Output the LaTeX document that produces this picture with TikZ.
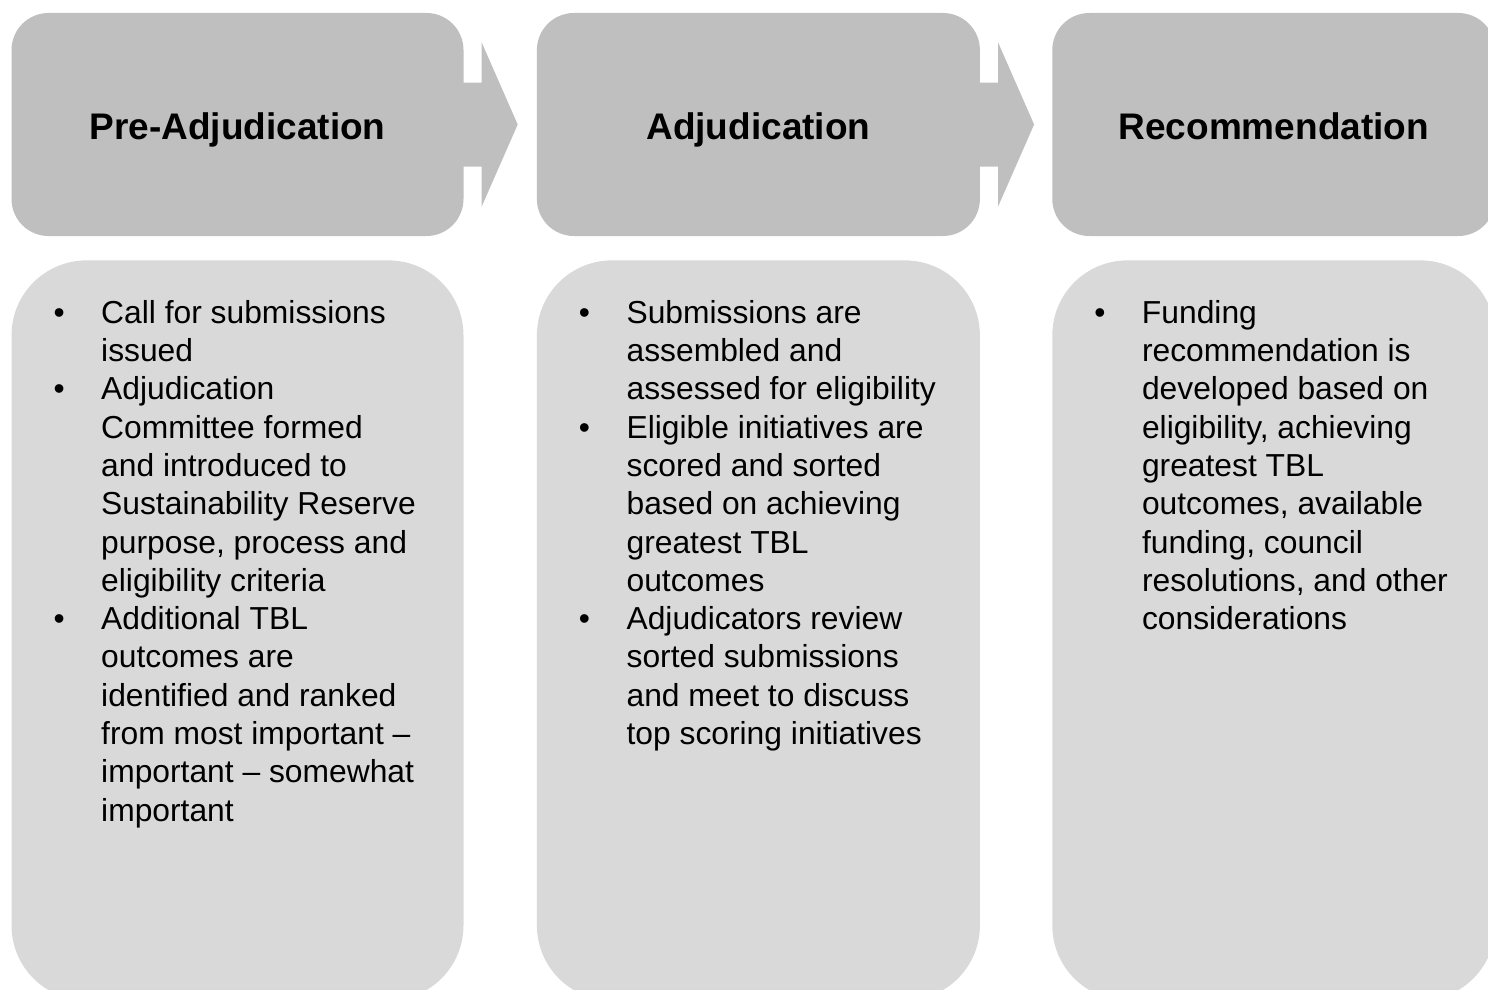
\documentclass[tikz,border=0pt]{standalone}
\usepackage{fontspec}
\setmainfont{Liberation Sans}
\usepackage{tikz}
\usetikzlibrary{positioning,calc}
\definecolor{headgray}{RGB}{191,191,191}
\definecolor{bodygray}{RGB}{217,217,217}
\newcommand{\itm}{\textbullet &}

\begin{document}
\begin{tikzpicture}[x=1pt,y=-1pt,
  head/.style={fill=headgray,rounded corners=37pt,minimum height=223pt,inner sep=0pt,
    text height=29pt,text depth=0pt,font=\bfseries\fontsize{37}{44}\selectfont},
  body/.style={fill=bodygray,rounded corners=75pt,minimum height=740pt,inner sep=0pt},
  list/.style={anchor=base west,inner sep=0pt,font=\fontsize{31.8}{38.3}\selectfont}
]
\useasboundingbox (0,0) rectangle (1488,990);
\clip (0,0) rectangle (1488,990);
\node[head,minimum width=452pt] (pre) at (237.5,124.5) {Pre-Adjudication};
\node[head,minimum width=443pt,right=73pt of pre] (adj) {Adjudication};
\node[head,minimum width=443pt,right=72pt of adj] (rec) {Recommendation};
\node[body,minimum width=452pt,below=24pt of pre] (prebody) {};
\node[body,minimum width=443pt,below=24pt of adj] (adjbody) {};
\node[body,minimum width=443pt,below=24pt of rec] (recbody) {};
\fill[headgray] ($(pre.east)+(-2,-42)$) -- ++(20,0) -- ++(0,-40) -- ($(pre.east)+(54,0)$)
  -- ($(pre.east)+(18,82)$) -- ++(0,-40) -- ($(pre.east)+(-2,42)$) -- cycle;
\fill[headgray] ($(adj.east)+(-2,-42)$) -- ++(20,0) -- ++(0,-40) -- ($(adj.east)+(54,0)$)
  -- ($(adj.east)+(18,82)$) -- ++(0,-40) -- ($(adj.east)+(-2,42)$) -- cycle;
\node[list] (prelist) at ($(prebody.north west)+(42,63)$) {%
\begin{tabular}[t]{@{}p{47.7pt}@{}l@{}}
\itm Call for submissions\\
 & issued\\
\itm Adjudication\\
 & Committee formed\\
 & and introduced to\\
 & Sustainability Reserve\\
 & purpose, process and\\
 & eligibility criteria\\
\itm Additional TBL\\
 & outcomes are\\
 & identified and ranked\\
 & from most important --\\
 & important -- somewhat\\
 & important
\end{tabular}};
\node[list] (adjlist) at ($(adjbody.north west)+(42,63)$) {%
\begin{tabular}[t]{@{}p{47.7pt}@{}l@{}}
\itm Submissions are\\
 & assembled and\\
 & assessed for eligibility\\
\itm Eligible initiatives are\\
 & scored and sorted\\
 & based on achieving\\
 & greatest TBL\\
 & outcomes\\
\itm Adjudicators review\\
 & sorted submissions\\
 & and meet to discuss\\
 & top scoring initiatives
\end{tabular}};
\node[list] (reclist) at ($(recbody.north west)+(42,63)$) {%
\begin{tabular}[t]{@{}p{47.7pt}@{}l@{}}
\itm Funding\\
 & recommendation is\\
 & developed based on\\
 & eligibility, achieving\\
 & greatest TBL\\
 & outcomes, available\\
 & funding, council\\
 & resolutions, and other\\
 & considerations
\end{tabular}};
\end{tikzpicture}
\end{document}
